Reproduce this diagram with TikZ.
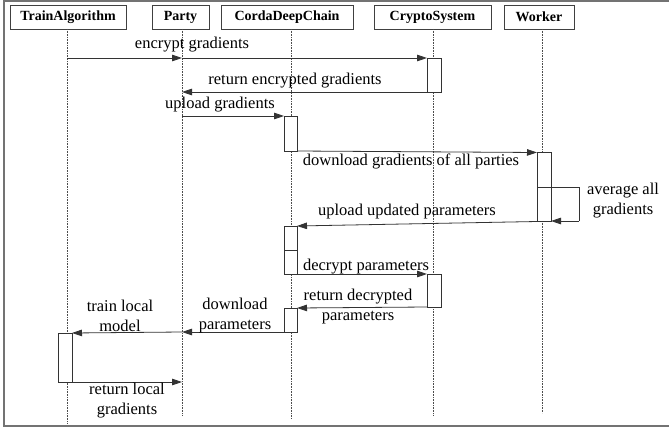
\documentclass[tikz,border=0pt]{standalone}
\usepackage{fontspec}
\setmainfont{Liberation Serif}
\usetikzlibrary{arrows.meta}
\begin{document}
\begin{tikzpicture}[x=1pt,y=-1pt,
  every node/.style={inner sep=0pt,outer sep=0pt},
  head/.style={draw=black!75,line width=0.8pt,minimum height=24pt,
               font=\fontsize{14}{16}\selectfont\bfseries},
  life/.style={densely dotted,line width=0.6pt,black!70},
  act/.style={draw=black!80,fill=white,line width=0.7pt},
  msg/.style={line width=0.8pt,black!80,-{Triangle[length=10pt,width=6.5pt]}},
  lbl/.style={font=\fontsize{16.5}{20}\selectfont,align=center,text=black},
  frame/.style={line width=1.4pt,black!55}]
\useasboundingbox (0,0) rectangle (669,428);
% open frame: top, left and bottom edges
\draw[frame] (669,1) -- (4,1) -- (4,426) -- (669,426);

% participants
\node[head,minimum width=116pt] (ta) at (68,17) {TrainAlgorithm};
\node[head,minimum width=57pt]  (pa) at (180.5,17) {Party};
\node[head,minimum width=132pt] (cd) at (287,17) {CordaDeepChain};
\node[head,minimum width=117pt] (cs) at (432.5,17) {CryptoSystem};
\node[head,minimum width=70pt]  (wk) at (539,17) {Worker};

% lifelines
\coordinate (taE) at (67,423);
\coordinate (paE) at (182,416);
\coordinate (cdE) at (291,418);
\coordinate (csE) at (433,416);
\coordinate (wkE) at (542,413);
\draw[life] (67,29) -- (taE);
\draw[life] (182,29) -- (paE);
\draw[life] (291,29) -- (cdE);
\draw[life] (433,29) -- (csE);
\draw[life] (542,29) -- (wkE);

% activation bars
\node[act,minimum width=14pt,minimum height=34pt] (cs1) at (434,75) {};
\node[act,minimum width=13pt,minimum height=35pt] (cd1) at (290.5,133.5) {};
\node[act,minimum width=14pt,minimum height=69pt] (wk1) at (544,187) {};
\node[act,minimum width=13pt,minimum height=48pt] (cd2) at (290.5,250) {};
\draw[draw=black!80,line width=0.7pt] (cd2.west) -- (cd2.east);
\node[act,minimum width=14pt,minimum height=33pt] (cs2) at (434,290.5) {};
\node[act,minimum width=13pt,minimum height=24pt] (cd3) at (290.5,320) {};
\node[act,minimum width=14pt,minimum height=49pt] (ta1) at (65,357.5) {};

% named points on lifelines
\coordinate (pa1) at (182,58);
\coordinate (pa2) at (182,92);
\coordinate (pa3) at (182,116);
\coordinate (pa4) at (182,332);
\coordinate (pa5) at (182,382);
\coordinate (taS) at (67,58);
\coordinate (wkL) at (579,187);
\coordinate (wkR) at (579,221);

% messages
\draw[msg] (taS) -- (pa1);
\draw[msg] (pa1) -- (cs1.north west);
\node[lbl] (l1) at (192,45) {encrypt gradients};

\draw[msg] (cs1.south west) -- (pa2);
\node[lbl] (l2) at (295,81) {return encrypted gradients};

\draw[msg] (pa3) -- (cd1.north west);
\node[lbl] (l3) at (220,105) {upload gradients};

\draw[msg] (cd1.south east) -- (wk1.north west);
\node[lbl] (l4) at (411,161) {download gradients of all parties};

% self message on the worker
\draw[line width=0.8pt,black!80] (wk1.west |- wkL) -- (wkL) -- (wkR);
\draw[msg] (wkR) -- (wk1.east |- wkR);
\node[lbl] (l5) at (623,201) {average all\\gradients};

\draw[msg] (wk1.south west) -- (cd2.north east);
\node[lbl] (l6) at (407,212) {upload updated parameters};

\draw[msg] (cd2.south east) -- (cs2.north west);
\node[lbl] (l7) at (366,267) {decrypt parameters};

\draw[msg] (cs2.south west) -- (cd3.north east);
\node[lbl] (l8) at (358,307) {return decrypted\\parameters};

\draw[msg] (cd3.south west) -- (pa4);
\node[lbl] (l9) at (235,316) {download\\parameters};

\draw[msg] (pa4) -- (ta1.north east);
\node[lbl] (l10) at (120,316) {train local\\model};

\draw[msg] (ta1.south east) -- (pa5);
\node[lbl] (l11) at (127,401) {return local\\gradients};
\end{tikzpicture}
\end{document}
